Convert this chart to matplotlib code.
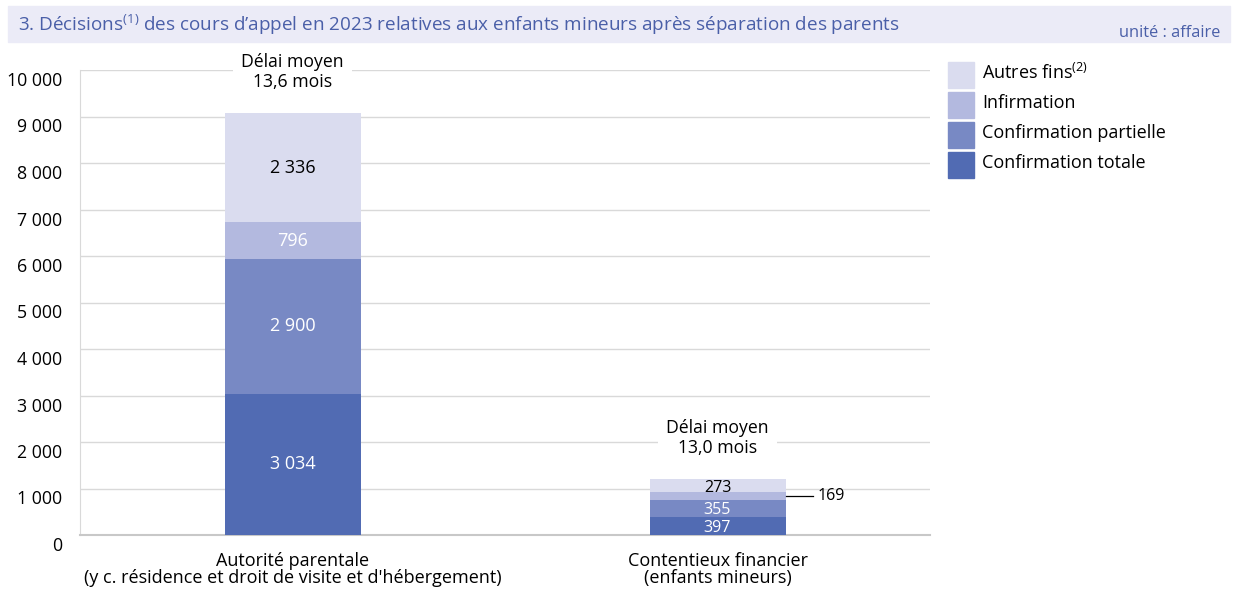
import matplotlib.pyplot as plt
import matplotlib.transforms as mtransforms
import numpy as np

plt.rcParams['font.family'] = ['Open Sans', 'DejaVu Sans']
plt.rcParams['mathtext.fontset'] = 'custom'
plt.rcParams['mathtext.rm'] = 'Open Sans'

# Data
categories = ["Autorité parentale\n(y c. résidence et droit de visite et d'hébergement)",
              "Contentieux financier\n(enfants mineurs)"]
series_names = ['Confirmation totale', 'Confirmation partielle', 'Infirmation', 'Autres fins']
confirmation_totale = [3034, 397]
confirmation_partielle = [2900, 355]
infirmation = [796, 169]
autres_fins = [2336, 273]
delais = ['13,6', '13,0']
yticks = [0, 1000, 2000, 3000, 4000, 5000, 6000, 7000, 8000, 9000, 10000]

colors = ['#516bb3', '#7889c4', '#b3b9df', '#dadcef']
text_colors = ['white', 'white', 'white', 'black']

fig = plt.figure(figsize=(12.33, 5.89), dpi=100)
ax = fig.add_axes([80/1233, 1 - 535/589, 850/1233, 465/589])

# title band
fig.patches.append(plt.Rectangle((8/1233, 1 - 42/589), 1222/1233, 36/589,
                                 transform=fig.transFigure, color='#ebebf7', zorder=0))
fig.text(18/1233, 1 - 25/589, '3. Décisions$^{\\mathrm{(1)}}$ des cours d\u2019appel en 2023 relatives aux enfants mineurs après séparation des parents',
         fontsize=13.6, color='#4a5fa8', va='center', ha='left')
fig.text(1220/1233, 1 - 33/589, 'unité : affaire', fontsize=11.8, color='#4a5fa8', va='center', ha='right')

x = np.arange(len(categories))
width = 0.32
series = [confirmation_totale, confirmation_partielle, infirmation, autres_fins]
bottom = np.zeros(len(categories))
for vals, col, tcol, name in zip(series, colors, text_colors, series_names):
    ax.bar(x, vals, width, bottom=bottom, color=col, zorder=3, label=name)
    for i, v in enumerate(vals):
        ymid = bottom[i] + v / 2
        if v < 200:
            ax.plot([x[i] + width / 2, x[i] + width / 2 + 0.065], [ymid, ymid], color='black', lw=0.9, zorder=4)
            ax.text(x[i] + width / 2 + 0.075, ymid, f'{v:,}'.replace(',', ' '), fontsize=11.5,
                    va='center', ha='left', color='black')
        else:
            ax.text(x[i], ymid - (40 if v < 500 else 0), f'{v:,}'.replace(',', ' '), fontsize=13 if v > 500 else 11.5,
                    va='center', ha='center', color=tcol, zorder=5)
    bottom += np.array(vals)

for i, d in enumerate(delais):
    ax.text(x[i], bottom[i] + 480, f'Délai moyen\n{d} mois', fontsize=12.7, ha='center', va='bottom',
            linespacing=1.12, zorder=5,
            bbox=dict(facecolor='white', edgecolor='none', pad=6))

ax.set_xlim(-0.5, 1.5)
ax.set_ylim(0, 10000)
ax.set_yticks(yticks)
ax.set_yticklabels([f'{v:,}'.replace(',', ' ') for v in yticks], fontsize=12.8)
ax.set_xticks(x)
ax.set_xticklabels(categories, fontsize=13, linespacing=0.95)
ax.tick_params(axis='both', length=0)
ax.tick_params(axis='y', pad=13)
ax.tick_params(axis='x', pad=12)
offset = mtransforms.ScaledTranslation(0, -9 / 100, fig.dpi_scale_trans)
for lab in ax.get_yticklabels():
    lab.set_transform(lab.get_transform() + offset)
ax.grid(axis='y', color='#d9d9d9', lw=1, zorder=0)
for s in ['top', 'right']:
    ax.spines[s].set_visible(False)
ax.spines['left'].set_color('#d9d9d9')
ax.spines['bottom'].set_color('#c8c8c8')
ax.spines['bottom'].set_linewidth(1.5)

# legend
leg_names = ['Autres fins$^{\\mathrm{(2)}}$', 'Infirmation', 'Confirmation partielle', 'Confirmation totale']
leg_colors = colors[::-1]
for k, (n, c) in enumerate(zip(leg_names, leg_colors)):
    ytop = 62 + k * 30
    fig.patches.append(plt.Rectangle((948/1233, 1 - (ytop + 26)/589), 26/1233, 26/589,
                                     transform=fig.transFigure, color=c))
    fig.text(982/1233, 1 - (ytop + 11)/589, n, fontsize=13, va='center', ha='left')

fig.savefig('out.png', dpi=100)
